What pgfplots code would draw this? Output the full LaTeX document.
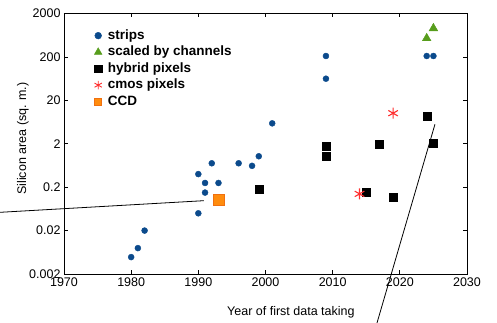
\documentclass[border=0pt]{standalone}
\usepackage{pgfplots}
\pgfplotsset{compat=1.18}
\usepackage{fontspec}
\setmainfont{Liberation Sans}
\definecolor{cblue}{HTML}{0B4A8C}
\definecolor{cgreen}{HTML}{579D1C}
\definecolor{cred}{HTML}{FF3030}
\definecolor{corange}{HTML}{FF8C0E}
\definecolor{corangedark}{HTML}{F07010}
\begin{document}
\begin{tikzpicture}
\begin{axis}[
  scale only axis,
  width=403bp, height=260.5bp,
  xmin=1970, xmax=2030,
  ymode=log, ymin=0.002, ymax=2000,
  xtick={1970,1980,...,2030},
  ytick={0.002,0.02,0.2,2,20,200,2000},
  yticklabels={0.002,0.02,0.2,2,20,200,2000},
  xticklabel style={/pgf/number format/1000 sep={}},
  /pgf/number format/assume math mode=true,
  tick label style={font=\fontsize{12.5bp}{14bp}\selectfont},
  label style={font=\fontsize{12.5bp}{14bp}\selectfont},
  minor tick num=0, yminorticks=false,
  tick align=inside,
  major tick length=4bp,
  axis line style={line width=1pt},
  every tick/.style={line width=0.8pt, black},
  xlabel={Year of first data taking},
  ylabel={Silicon area (sq. m.)},
  xlabel style={at={(axis description cs:0.563,-0.146)}, anchor=center},
  ylabel style={at={(axis description cs:-0.102,0.52)}, anchor=center},
  clip=false,
  legend style={at={(axis description cs:0.066,0.952)}, anchor=north west, draw=none, fill=none,
    font=\bfseries\fontsize{13.5bp}{15bp}\selectfont, row sep=1.6bp,
    nodes={inner sep=1.2bp, text height=10bp, text depth=2.5bp}},
  legend cell align=left,
  legend image code/.code={\draw[mark repeat=2,mark phase=2] plot coordinates {(0cm,0cm)(0.14cm,0cm)(0.28cm,0cm)}; \path (0cm,0cm) (0.42cm,0cm);},
]
\addplot[only marks, mark=*, mark size=3bp, color=cblue,
  legend image post style={mark size=3.4bp}] coordinates {
(1980,0.0049) (1981,0.0079) (1982,0.020)
(1990,0.050) (1990,0.40) (1991,0.25) (1991,0.15)
(1992,0.71) (1993,0.25) (1996,0.71) (1998,0.62) (1999,1.03)
(2001,5.9) (2009,210) (2009,63) (2024,210) (2025,210)
};
\addlegendentry{strips}
\addplot[only marks, mark=triangle*, mark size=5bp, color=cgreen,
  legend image post style={mark size=4.4bp}] coordinates {
(2024,537) (2025,912)
};
\addlegendentry{scaled by channels}
\addplot[only marks, mark=square*, mark size=4bp, color=black,
  legend image post style={mark size=3.6bp}] coordinates {
(1999,0.18) (2009,1.75) (2009,1.03) (2015,0.15) (2017,1.94)
(2019,0.12) (2024,8.4) (2025,2.05)
};
\addlegendentry{hybrid pixels}
\addplot[only marks, mark=asterisk, mark size=5.5bp, color=cred, line width=1.1pt,
  legend image post style={mark size=4.2bp, line width=0.9pt}] coordinates {
(2014,0.14) (2019,10.1)
};
\addlegendentry{cmos pixels}
\addplot[only marks, mark=square*, mark size=5.5bp, color=corangedark, fill=corange, line width=0.8pt,
  legend image post style={mark size=3.4bp}] coordinates {
(1993,0.10)
};
\addlegendentry{CCD}
\draw[line width=0.8pt] (axis cs:1960.47,0.0527) -- (axis cs:1990.84,0.0977);
\draw[line width=0.8pt] (axis cs:2016.6,0.000149) -- (axis cs:2025.23,5.61);
\coordinate (sw) at (rel axis cs:0,0);
\end{axis}
\pgfresetboundingbox
\path (sw) ++(-64bp,-49bp) rectangle ++(497bp,323bp);
\end{tikzpicture}
\end{document}
